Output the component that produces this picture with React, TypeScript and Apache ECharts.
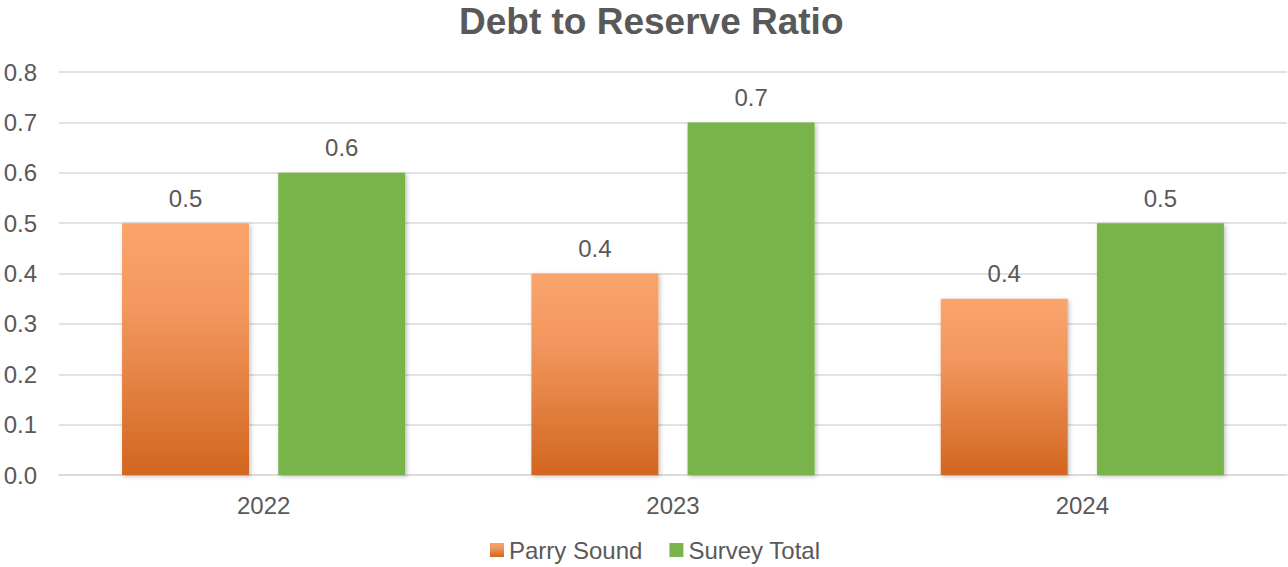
import React, { useEffect, useRef } from "react";
import * as echarts from "echarts";

const categories = ["2022", "2023", "2024"];
const parrySound = [0.5, 0.4, 0.35];
const surveyTotal = [0.6, 0.7, 0.5];
const seriesNames = ["Parry Sound", "Survey Total"];
const titleText = "Debt to Reserve Ratio";

const TEXT = "#595959";
const FONT = "Liberation Sans, Arial, sans-serif";

export default function App() {
  const ref = useRef<HTMLDivElement>(null);
  useEffect(() => {
    document.body.style.margin = "0";
    if (!ref.current) return;
    const chart = echarts.init(ref.current, undefined, { renderer: "svg" });
    const orange = new echarts.graphic.LinearGradient(0, 0, 0, 1, [
      { offset: 0, color: "#FAA46B" },
      { offset: 0.35, color: "#F2975E" },
      { offset: 1, color: "#D2661F" },
    ]);
    const labelFmt = (p: any) => (Math.round(p.value * 10) / 10).toFixed(1);
    const shadow = {
      shadowBlur: 4,
      shadowColor: "rgba(0,0,0,0.25)",
      shadowOffsetX: 1.5,
      shadowOffsetY: 1.5,
    };
    const lbl = {
      show: true,
      position: "top",
      distance: 13,
      color: TEXT,
      fontSize: 24,
      fontFamily: FONT,
      formatter: labelFmt,
    };
    chart.setOption({
      animation: false,
      textStyle: { fontFamily: FONT },
      title: {
        text: titleText,
        left: 454,
        top: -2,
        textStyle: { color: TEXT, fontSize: 37, fontWeight: "bold", fontFamily: FONT },
      },
      legend: {
        bottom: 0,
        left: 485,
        itemWidth: 14,
        itemHeight: 14,
        itemGap: 27,
        icon: "rect",
        textStyle: { color: TEXT, fontSize: 24, fontFamily: FONT },
        data: seriesNames,
      },
      grid: { left: 59, right: 1, top: 72, bottom: 92, containLabel: false },
      xAxis: {
        type: "category",
        data: categories,
        axisTick: { show: false },
        axisLine: { lineStyle: { color: "#D9D9D9", width: 1.5 } },
        axisLabel: { color: TEXT, fontSize: 24, margin: 18, fontFamily: FONT },
      },
      yAxis: {
        type: "value",
        min: 0,
        max: 0.8,
        interval: 0.1,
        axisLine: { show: false },
        axisTick: { show: false },
        splitLine: { lineStyle: { color: "#D9D9D9", width: 1.5 } },
        axisLabel: {
          color: TEXT,
          fontSize: 24,
          margin: 22,
          fontFamily: FONT,
          formatter: (v: number) => v.toFixed(1),
        },
      },
      series: [
        {
          name: seriesNames[0],
          type: "bar",
          data: parrySound,
          barWidth: 127,
          barGap: "23%",
          itemStyle: { color: orange, ...shadow },
          label: lbl,
        },
        {
          name: seriesNames[1],
          type: "bar",
          data: surveyTotal,
          barWidth: 127,
          barGap: "23%",
          itemStyle: { color: "#79B44C", ...shadow },
          label: lbl,
        },
      ],
    });
    return () => chart.dispose();
  }, []);
  return <div ref={ref} style={{ width: 1288, height: 567 }} />;
}
